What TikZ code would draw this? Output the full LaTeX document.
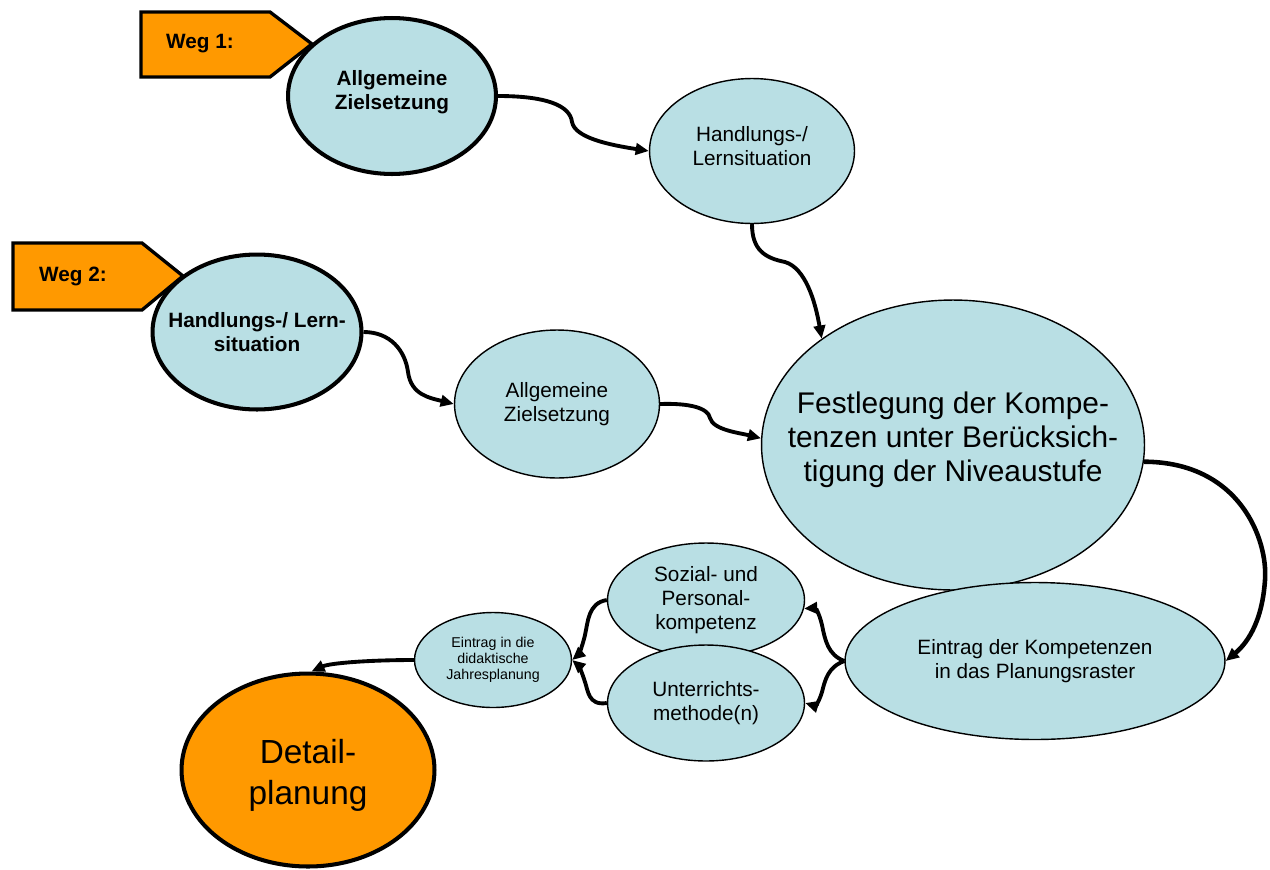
\documentclass[tikz,border=0pt]{standalone}
\usepackage{fontspec}
\setmainfont{Liberation Sans}
\usetikzlibrary{arrows.meta}
\usetikzlibrary{shapes.geometric}
\definecolor{hellblau}{RGB}{185,223,228}
\definecolor{wegorange}{RGB}{255,153,0}

\begin{document}
\begin{tikzpicture}[x=0.02cm, y=0.02cm,
	blase/.style={draw, ellipse, fill=hellblau, line width=0.8pt, inner sep=0pt},
	blasefett/.style={blase, line width=2.3pt},
	inhalt/.style={align=center, font=\fontsize{11.8}{13.6}\selectfont},
	inhaltfett/.style={align=center, font=\bfseries\fontsize{11.8}{13.6}\selectfont},
	weg/.style={draw, fill=wegorange, line width=1.9pt},
	pfeil/.style={-{Triangle[length=7.5pt,width=6.5pt]}, line width=2.2pt}]
	\useasboundingbox (0,0) rectangle (1270,-869);

	% Wegweiser
	\draw[weg] (141,-12) -- (270,-12) -- (312,-44) -- (270,-77) -- (141,-77) -- cycle;
	\node[inhaltfett] (w1) at (200,-44) {Weg 1:};
	\draw[weg] (13,-243) -- (142,-243) -- (183,-276) -- (142,-310) -- (13,-310) -- cycle;
	\node[inhaltfett] (w2) at (73,-276) {Weg 2:};

	% Blasen
	\node[blasefett, minimum width=4.16cm, minimum height=3.12cm,
		label={[inhaltfett, yshift=2pt]center:Allgemeine\\Zielsetzung}] (az1) at (392,-96) {};
	\node[blase, minimum width=4.1cm, minimum height=2.9cm,
		label={[inhalt, yshift=3pt]center:Handlungs-/\\Lernsituation}] (hl1) at (752,-151) {};
	\node[blasefett, minimum width=4.18cm, minimum height=3.1cm,
		label={[inhaltfett]center:Handlungs-/ Lern-\\situation}] (hl2) at (257,-332) {};
	\node[blase, minimum width=4.1cm, minimum height=2.96cm,
		label={[inhalt]center:Allgemeine\\Zielsetzung}] (az2) at (557,-404) {};
	\node[blase, minimum width=7.66cm, minimum height=5.8cm,
		label={[inhalt, font=\fontsize{17}{19.3}\selectfont, yshift=3pt]center:Festlegung der Kompe-\\tenzen unter Berücksich-\\tigung der Niveaustufe}] (fest) at (953,-445) {};
	\node[blase, minimum width=7.6cm, minimum height=3.14cm,
		label={[inhalt]center:Eintrag der Kompetenzen\\in das Planungsraster}] (eintrag) at (1035,-661) {};
	\node[blase, minimum width=3.94cm, minimum height=2.28cm,
		label={[inhalt]center:Sozial- und\\Personal-\\kompetenz}] (sozial) at (706,-600) {};
	\node[blase, minimum width=3.94cm, minimum height=2.32cm,
		label={[inhalt]center:Unterrichts-\\methode(n)}] (unterricht) at (706,-703) {};
	\node[blase, minimum width=3.14cm, minimum height=1.9cm,
		label={[inhalt, font=\fontsize{8.1}{9.1}\selectfont]center:Eintrag in die\\didaktische\\Jahresplanung}] (jahr) at (493,-660) {};
	\node[blase, fill=wegorange, line width=2.3pt, minimum width=5.06cm, minimum height=3.86cm,
		label={[inhalt, font=\fontsize{19}{23.8}\selectfont, yshift=-3pt]center:Detail-\\planung}] (detail) at (308,-770) {};

	% Pfeile
	\draw[pfeil] (az1.east) .. controls (545,-96) and (570,-105) .. (572,-122) .. controls (575,-138) and (610,-145) .. (hl1.west);
	\draw[pfeil] (hl1.south) .. controls (752,-250) and (765,-258) .. (785,-262) .. controls (805,-268) and (815,-300) .. (fest.141);
	\draw[pfeil] (hl2.east) .. controls (390,-332) and (405,-350) .. (408,-372) .. controls (411,-395) and (430,-398) .. (az2.west);
	\draw[pfeil] (az2.east) .. controls (690,-403) and (708,-408) .. (710,-418) .. controls (713,-430) and (740,-433) .. (fest.178);
	\draw[pfeil, line width=2.6pt] (fest.-5) .. controls (1240,-462) and (1268,-540) .. (1265,-580) .. controls (1262,-625) and (1245,-645) .. (eintrag.east);
	\draw[pfeil] (eintrag.west) .. controls (828,-655) and (825,-640) .. (822,-625) .. controls (819,-612) and (815,-608) .. (sozial.-5);
	\draw[pfeil] (eintrag.west) .. controls (828,-667) and (825,-680) .. (822,-692) .. controls (819,-702) and (815,-706) .. (unterricht.east);
	\draw[pfeil] (sozial.west) .. controls (588,-603) and (588,-622) .. (585,-635) .. controls (582,-648) and (578,-655) .. (jahr.east);
	\draw[pfeil] (unterricht.west) .. controls (588,-706) and (588,-690) .. (585,-682) .. controls (582,-672) and (578,-665) .. (jahr.east);
	\draw[pfeil] (jahr.west) .. controls (370,-660) and (330,-663) .. (detail.88);
\end{tikzpicture}
\end{document}
